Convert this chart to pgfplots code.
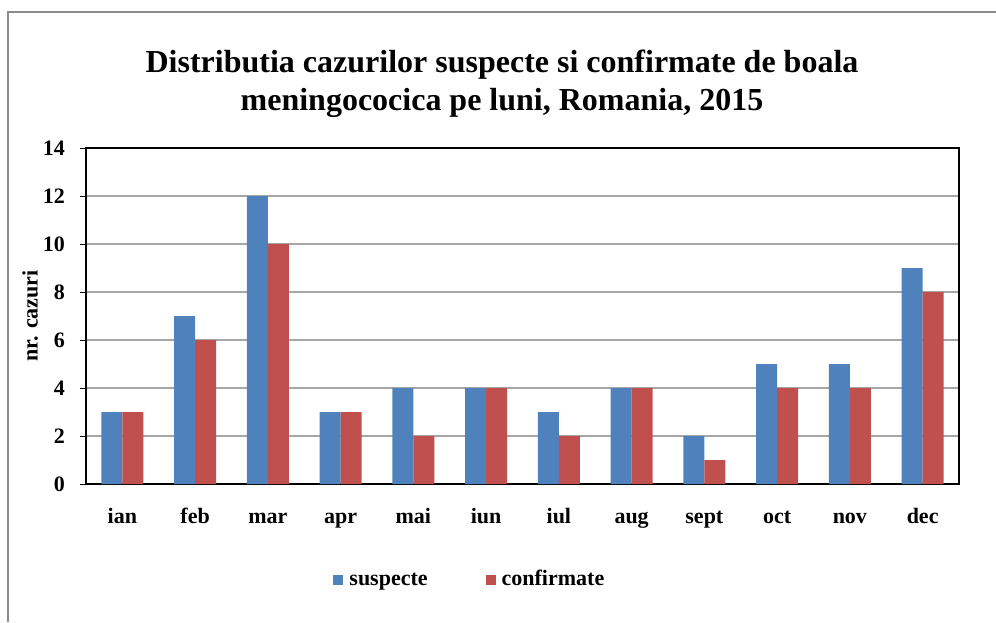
\documentclass[border=0pt]{standalone}
\usepackage{fontspec}
\setmainfont{Liberation Serif}
\usepackage{pgfplots}
\pgfplotsset{compat=1.18}
\definecolor{sus}{HTML}{4F81BD}
\definecolor{conf}{HTML}{C0504D}
\definecolor{gridc}{HTML}{A6A6A6}
\definecolor{frame}{HTML}{8C8C8C}

\begin{document}
\begin{tikzpicture}
\useasboundingbox (0,0) rectangle (498pt,311pt);
% outer chart frame (cut at right and bottom as in the source)
\draw[frame, line width=1pt] (4pt,0) -- (4pt,305pt) -- (498pt,305pt);
\node[align=center, font=\fontsize{16}{19}\selectfont\bfseries] at (251pt,269pt)
  {Distributia cazurilor suspecte si confirmate de boala\\meningococica pe luni, Romania, 2015};
\begin{axis}[
  at={(43pt,69pt)}, anchor=south west,
  scale only axis, width=436.5pt, height=168pt,
  ybar=0pt, bar width=10.5pt,
  xmin=-0.5, xmax=11.5, ymin=0, ymax=14,
  xtick=data,
  xticklabels={ian,feb,mar,apr,mai,iun,iul,aug,sept,oct,nov,dec},
  ytick={0,2,...,14},
  x tick style={draw=none},
  y tick style={black, line width=0.5pt},
  tick align=outside, major tick length=3pt,
  tick pos=left,
  ymajorgrids, grid style={gridc, line width=0.7pt},
  axis line style={black, line width=1pt},
  ticklabel style={font=\fontsize{11}{13}\selectfont\bfseries},
  /pgf/number format/assume math mode=true,
  xticklabel style={yshift=-6pt, text height=1.6ex, text depth=0.5ex},
  yticklabel style={xshift=-4pt},
  ylabel={nr. cazuri},
  ylabel style={font=\fontsize{11}{13}\selectfont\bfseries, at={(axis description cs:-0.064,0.5)}, anchor=center},
  legend columns=2,
  legend style={at={(0.442,-0.286)}, anchor=center, draw=none, fill=none,
    font=\fontsize{11}{13}\selectfont\bfseries,
    nodes={text height=1.6ex, text depth=0.5ex, inner xsep=3pt},
    /tikz/every even column/.append style={column sep=26pt}},
  legend image code/.code={\fill[#1] (0pt,-2.5pt) rectangle (5pt,2.5pt);},
]
\addplot[fill=sus, draw=none] coordinates {
  (0,3)(1,7)(2,12)(3,3)(4,4)(5,4)(6,3)(7,4)(8,2)(9,5)(10,5)(11,9)};
\addlegendentry{suspecte}
\addplot[fill=conf, draw=none] coordinates {
  (0,3)(1,6)(2,10)(3,3)(4,2)(5,4)(6,2)(7,4)(8,1)(9,4)(10,4)(11,8)};
\addlegendentry{confirmate}
\end{axis}
\end{tikzpicture}
\end{document}
